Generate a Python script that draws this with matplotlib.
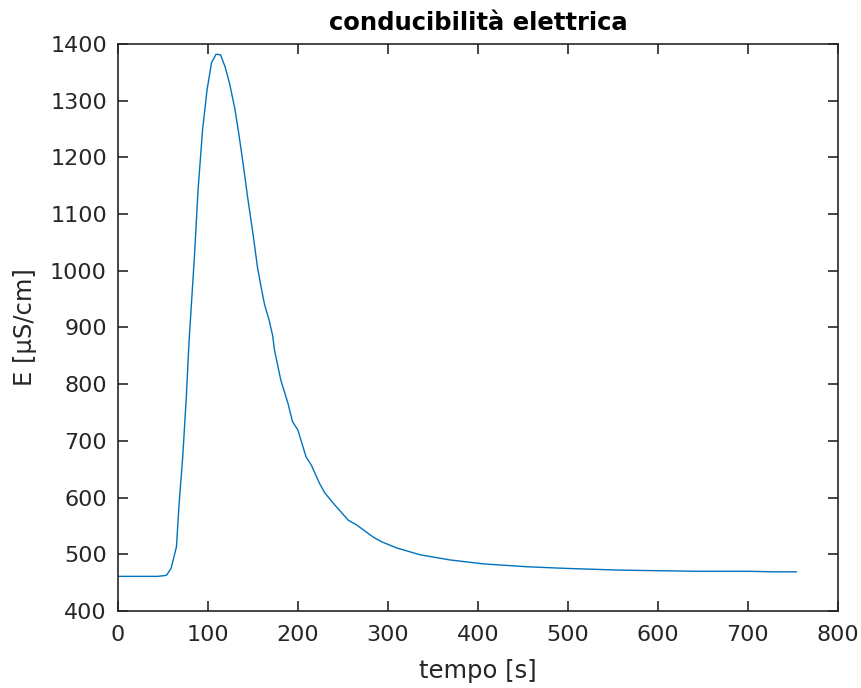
import matplotlib.pyplot as plt

# tempo [s] and conducibilita' [uS/cm]
tempo = [0, 10, 20, 30, 40, 44, 50, 54, 59, 65, 68, 72, 76, 79, 85, 89, 94, 99, 104,
         109, 114, 119, 124, 130, 134, 139, 144, 150, 155, 159, 163, 168, 172, 174,
         181, 189, 194, 200, 209, 215, 224, 230, 241, 246, 256, 265, 278, 284, 293,
         310, 336, 369, 406, 454, 499, 558, 599, 643, 700, 728, 754]
conduc = [461, 461, 461, 461, 461, 461, 462, 463, 475, 513, 590, 672, 778, 875, 1025,
          1142, 1248, 1319, 1367, 1382, 1381, 1360, 1331, 1285, 1245, 1190, 1131, 1066,
          1007, 972, 940, 913, 885, 860, 807, 766, 734, 719, 672, 657, 625, 608, 587,
          578, 560, 552, 537, 530, 522, 511, 499, 490, 483, 478, 475, 472, 471, 470,
          470, 469, 469]

xticks = [0, 100, 200, 300, 400, 500, 600, 700, 800]
yticks = [400, 500, 600, 700, 800, 900, 1000, 1100, 1200, 1300, 1400]

plt.rcParams['font.family'] = ['DejaVu Sans']
axcol = '#262626'

fig = plt.figure(figsize=(8.61, 6.88), dpi=100)
ax = fig.add_axes([0.137, 0.112, 0.836, 0.824])
ax.plot(tempo, conduc, color='#0072BD', linewidth=1.0)
ax.set_xlim(0, 800)
ax.set_ylim(400, 1400)
ax.set_xticks(xticks)
ax.set_yticks(yticks)
ax.tick_params(direction='in', top=True, right=True, length=7, width=1.2,
               labelsize=16, colors=axcol)
ax.tick_params(axis='x', pad=10)
ax.tick_params(axis='y', pad=8)
for s in ax.spines.values():
    s.set_color(axcol)
    s.set_linewidth(1.2)
ax.set_xlabel('tempo [s]', fontsize=17.5, color=axcol, labelpad=10)
ax.set_ylabel('E [µS/cm]', fontsize=17.5, color=axcol, labelpad=9)
ax.set_title('conducibilità elettrica', fontsize=17.5, fontweight='bold', pad=10)

fig.savefig('out.png', dpi=100)
